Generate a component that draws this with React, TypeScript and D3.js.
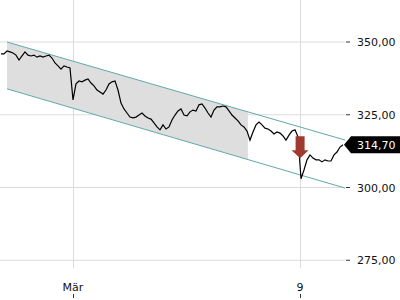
import React from "react";
import * as d3 from "d3";

const closes: number[] = [
  345.9, 345.9, 346.9, 346.6, 346.2, 345.5, 343.8, 345.2, 346.6, 345.5,
  345.2, 345.5, 344.8, 345.2, 344.8, 345.2, 345.5, 344.5, 342.8, 341.8,
  340.7, 341.8, 341.4, 341.1, 330.1, 335.6, 336.6, 336.3, 336.9, 337.3,
  335.9, 334.9, 333.5, 332.8, 332.1, 333.5, 335.6, 336.3, 336.6, 333.5,
  329.0, 327.0, 325.6, 324.2, 323.9, 324.2, 324.9, 325.6, 324.6, 323.9,
  323.5, 322.2, 320.8, 319.8, 321.5, 320.1, 320.8, 323.2, 324.9, 326.3,
  327.0, 324.9, 324.6, 326.0, 326.6, 326.3, 328.4, 328.7, 327.3, 325.6,
  324.2, 326.6, 327.7, 327.7, 328.0, 327.7, 326.3, 324.9, 323.9, 322.9,
  321.5, 320.8, 319.4, 316.3, 319.1, 321.5, 322.5, 321.5, 320.4, 320.1,
  319.4, 318.4, 319.1, 318.7, 317.7, 316.3, 318.0, 319.4, 319.8, 317.4,
  303.0, 306.0, 309.5, 311.2, 310.1, 309.5, 309.5, 308.8, 309.5, 309.1,
  309.1, 311.2, 312.2, 313.9, 314.7,
];

const yTicks: number[] = [275, 300, 325, 350];
const xTickPos: number[] = [24, 99.7];
const xTickLabels: string[] = ["Mär", "9"];

const channelIdx: number[] = [2, 114.7];
const channelUpper: number[] = [350.0, 316.3];
const channelLower: number[] = [333.9, 299.8];
const shadeEndIdx = 82.3;
const signalIdx = 99.7;
const signalValue = 317.6;
const lastValue = 314.7;

const fmt = (v: number) => v.toFixed(2).replace(".", ",");

export default function App() {
  const W = 400, H = 300;
  const x = d3.scaleLinear().domain([0, closes.length - 1]).range([1, 343]);
  const y = d3.scaleLinear().domain([275, 350]).range([260.25, 42]);
  const plotRight = 345;

  const line = d3
    .line<number>()
    .x((_, i) => x(i))
    .y((d) => y(d))
    .curve(d3.curveLinear);

  const upperAt = (i: number) =>
    channelUpper[0] + ((channelUpper[1] - channelUpper[0]) * (i - channelIdx[0])) / (channelIdx[1] - channelIdx[0]);
  const lowerAt = (i: number) =>
    channelLower[0] + ((channelLower[1] - channelLower[0]) * (i - channelIdx[0])) / (channelIdx[1] - channelIdx[0]);

  const shade = d3
    .area<number>()
    .x((d) => x(d))
    .y0((d) => y(lowerAt(d)))
    .y1((d) => y(upperAt(d)));
  const shadePath = shade([channelIdx[0], shadeEndIdx]) || "";

  const sx = x(signalIdx);
  const sy = y(signalValue);
  const arrow = `M${sx - 4.5},${sy} L${sx + 4.5},${sy} L${sx + 4.5},${sy + 14} L${sx + 8.5},${sy + 14} L${sx},${sy + 22} L${sx - 8.5},${sy + 14} L${sx - 4.5},${sy + 14} Z`;

  const ly = y(lastValue);
  const font = "DejaVu Sans, sans-serif";

  return (
    <svg width={W} height={H} style={{ position: "absolute", left: 0, top: 0, background: "#fff" }}>
      {/* grid */}
      {yTicks.map((t) => (
        <line key={"gy" + t} x1={0} x2={plotRight} y1={y(t)} y2={y(t)} stroke="#dcdcdc" strokeWidth={1} />
      ))}
      {xTickPos.map((t) => (
        <line key={"gx" + t} x1={Math.round(x(t)) + 0.5} x2={Math.round(x(t)) + 0.5} y1={0} y2={268} stroke="#dcdcdc" strokeWidth={1} />
      ))}
      {/* channel */}
      <path d={shadePath} fill="#dedede" />
      <line x1={x(channelIdx[0])} x2={x(channelIdx[1])} y1={y(channelUpper[0])} y2={y(channelUpper[1])} stroke="#5fa9ad" strokeWidth={1} />
      <line x1={x(channelIdx[0])} x2={x(channelIdx[1])} y1={y(channelLower[0])} y2={y(channelLower[1])} stroke="#5fa9ad" strokeWidth={1} />
      {/* price */}
      <path d={line(closes) || ""} fill="none" stroke="#000" strokeWidth={1.2} />
      {/* signal arrow */}
      <path d={arrow} fill="#9e3a2f" />
      {/* y axis */}
      {yTicks.map((t) => (
        <g key={"ty" + t}>
          <line x1={346} x2={350} y1={y(t)} y2={y(t)} stroke="#333" strokeWidth={1} />
          <text x={357} y={y(t) + 4} fontSize={11} fontFamily={font} fill="#111">
            {fmt(t)}
          </text>
        </g>
      ))}
      {/* x axis */}
      {xTickPos.map((t, i) => (
        <g key={"tx" + t}>
          <line x1={Math.round(x(t)) + 0.5} x2={Math.round(x(t)) + 0.5} y1={294} y2={298} stroke="#333" strokeWidth={1} />
          <text x={x(t)} y={291} fontSize={11} fontFamily={font} fill="#111" textAnchor="middle">
            {xTickLabels[i]}
          </text>
        </g>
      ))}
      {/* last value label */}
      <path d={`M344,${ly} L351,${ly - 8.5} L400,${ly - 8.5} L400,${ly + 8.5} L351,${ly + 8.5} Z`} fill="#000" />
      <text x={357} y={ly + 4} fontSize={11} fontFamily={font} fill="#fff">
        {fmt(lastValue)}
      </text>
    </svg>
  );
}
